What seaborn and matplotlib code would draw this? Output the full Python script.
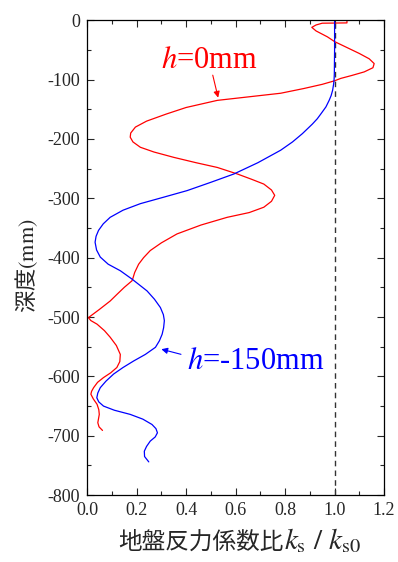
import numpy as np
import pandas as pd
import seaborn as sns
import matplotlib.pyplot as plt
from matplotlib.ticker import MultipleLocator

# h = 0mm (red)
depth_h0 = [-1, -4.5, -5, -8, -12, -18, -28, -36, -46, -56, -65, -73, -80, -87, -93, -98, -102,
            -108, -115, -123, -135, -147, -158, -170, -180, -190, -197, -205, -214, -222, -231,
            -240, -248, -259, -268, -276, -286, -295, -305, -315, -324, -332, -345, -360, -375,
            -388, -400, -411, -425, -436, -439, -450, -462, -473, -487, -501, -506, -512, -523,
            -534, -548, -563, -575, -585, -594, -602, -610, -619, -625, -630, -638, -647, -656,
            -664, -671, -678, -685, -691]
ratio_h0 = [1.05, 1.05, 0.95, 0.925, 0.908, 0.925, 0.971, 1.00, 1.05, 1.10, 1.14, 1.16, 1.155, 1.12,
            1.07, 1.025, 1.00, 0.95, 0.876, 0.782, 0.526, 0.40, 0.32, 0.24, 0.195, 0.176, 0.174,
            0.185, 0.215, 0.27, 0.35, 0.44, 0.526, 0.607, 0.665, 0.714, 0.745, 0.758, 0.745, 0.714,
            0.655, 0.566, 0.46, 0.363, 0.30, 0.255, 0.228, 0.208, 0.192, 0.184, 0.181, 0.15, 0.12,
            0.093, 0.05, 0.005, 0.015, 0.04, 0.07, 0.093, 0.118, 0.134, 0.132, 0.12, 0.095, 0.066,
            0.042, 0.026, 0.018, 0.015, 0.025, 0.04, 0.047, 0.049, 0.046, 0.043, 0.048, 0.062]

# h = -150mm (blue)
depth_h150 = [0, -50, -90, -100, -108, -118, -127, -135, -146, -157, -166, -175, -191, -205, -219,
              -240, -259, -273, -287, -298, -309, -320, -332, -343, -354, -364, -374, -387, -399,
              -411, -422, -436, -456, -470, -484, -496, -506, -518, -529, -540, -551, -563, -574,
              -585, -596, -608, -619, -628, -636, -643, -650, -657, -664, -672, -681, -688, -695,
              -702, -709, -718, -726, -735, -744]
ratio_h150 = [1.00, 1.00, 0.999, 0.998, 0.996, 0.992, 0.986, 0.978, 0.965, 0.946, 0.93, 0.91, 0.870,
              0.83, 0.782, 0.69, 0.593, 0.50, 0.404, 0.31, 0.215, 0.145, 0.093, 0.065, 0.046, 0.036,
              0.032, 0.038, 0.053, 0.085, 0.134, 0.181, 0.242, 0.272, 0.296, 0.308, 0.312, 0.309,
              0.303, 0.292, 0.276, 0.235, 0.188, 0.145, 0.107, 0.076, 0.053, 0.043, 0.039, 0.047,
              0.066, 0.11, 0.174, 0.225, 0.262, 0.278, 0.284, 0.275, 0.255, 0.24, 0.231, 0.232, 0.249]

xticks = [0.0, 0.2, 0.4, 0.6, 0.8, 1.0, 1.2]
yticks = [0, -100, -200, -300, -400, -500, -600, -700, -800]

sns.set_style('ticks')
plt.rcParams['font.family'] = ['Liberation Serif', 'DejaVu Serif']
plt.rcParams['mathtext.fontset'] = 'stix'
plt.rcParams['axes.unicode_minus'] = False

fig = plt.figure(figsize=(3.98, 5.62), dpi=100)
ax = fig.add_axes([0.219, 0.119, 0.746, 0.845])

df0 = pd.DataFrame({'ratio': ratio_h0, 'depth': depth_h0})
df1 = pd.DataFrame({'ratio': ratio_h150, 'depth': depth_h150})
sns.lineplot(data=df0, x='ratio', y='depth', sort=False, estimator=None, color='#ff0000', lw=0.9, ax=ax)
sns.lineplot(data=df1, x='ratio', y='depth', sort=False, estimator=None, color='#0000ff', lw=0.9, ax=ax)
ax.axvline(1.0, color='#333333', lw=1.0, ls=(0, (4, 3)), zorder=1)

ax.set_xlim(0, 1.2)
ax.set_ylim(-800, 0)
ax.set_xticks(xticks)
ax.set_yticks(yticks)
ax.set_xticklabels(['%.1f' % v for v in xticks])
ax.set_yticklabels([str(v) for v in yticks])
ax.xaxis.set_minor_locator(MultipleLocator(0.1))
ax.yaxis.set_minor_locator(MultipleLocator(50))
ax.tick_params(which='both', direction='in', top=True, right=True, width=0.8, labelsize=13, pad=5)
ax.tick_params(which='major', length=5)
ax.tick_params(which='minor', length=3)
for s in ax.spines.values():
    s.set_linewidth(0.9)
    s.set_color('black')

ax.set_xlabel('')
ax.set_ylabel('深度$\\mathrm{(mm)}$', family=['Noto Sans CJK JP'], fontsize=16)
ax.yaxis.set_label_coords(-0.158, 0.484)

# x label: CJK part + large italic k
fig.text(118 / 398, 1 - 549 / 562, '地盤反力係数比', family=['Noto Sans CJK JP'], fontsize=17,
         ha='left', va='baseline')
fig.text(284 / 398, 1 - 549 / 562, '$k_\\mathrm{s}\\ /\\ k_\\mathrm{s0}$', fontsize=21,
         ha='left', va='baseline')

ax.text(0.495, -81, '$h$=0mm', color='#ff0000', fontsize=22, ha='center', va='baseline')
ax.annotate('', xy=(0.532, -135), xytext=(0.505, -88),
            arrowprops=dict(arrowstyle='-|>', color='#ff0000', lw=0.8, mutation_scale=9))
ax.text(0.68, -588, '$h$=-150mm', color='#0000ff', fontsize=22, ha='center', va='baseline')
ax.annotate('', xy=(0.289, -553), xytext=(0.39, -564),
            arrowprops=dict(arrowstyle='-|>', color='#0000ff', lw=0.8, mutation_scale=9))

fig.savefig('out.png', dpi=100)
